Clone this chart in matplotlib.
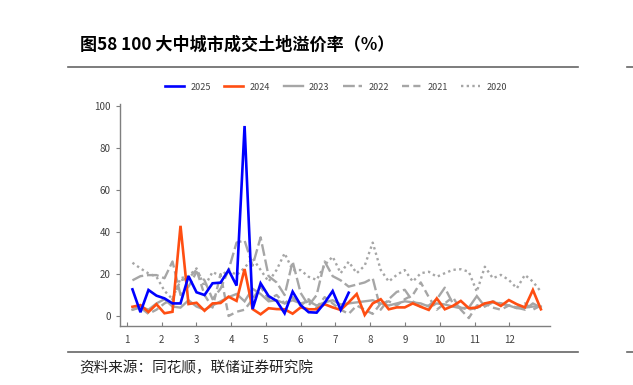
import numpy as np
import matplotlib
matplotlib.use('Agg')
from matplotlib import pyplot as plt
from matplotlib.lines import Line2D

plt.rcParams['font.family'] = ['Noto Sans CJK SC', 'DejaVu Sans']

months = list(range(1, 13))
years = ['2025', '2024', '2023', '2022', '2021', '2020']

# weekly land premium rate (%)
v2025 = [12.7, 1.8, 12.4, 9.7, 8.4, 6.0, 6.0, 19.0, 11.3, 10.0, 15.6, 15.9, 21.9, 14.5,
         90.6, 3.3, 15.6, 9.5, 7.2, 1.3, 11.6, 5.2, 1.8, 1.6, 6.3, 11.9, 2.9, 11.1]
v2024 = [4.4, 5.2, 1.9, 5.6, 1.3, 2.0, 43.0, 5.7, 6.3, 2.5, 6.0, 6.2, 9.2, 7.2,
         22.4, 3.3, 0.8, 3.7, 3.3, 3.2, 1.1, 4.1, 3.2, 3.2, 5.6, 4.1, 2.9, 6.5,
         10.5, 0.5, 6.0, 8.0, 3.2, 4.1, 4.1, 6.0, 4.4, 2.9, 8.4, 3.2, 4.8, 7.2,
         3.7, 4.0, 6.0, 6.8, 4.8, 7.6, 5.6, 4.1, 12.4, 3.2]
v2023 = [3.0, 4.5, 3.0, 6.0, 8.0, 4.5, 4.0, 7.5, 4.5, 3.0, 5.0, 7.0, 9.0, 10.5,
         7.0, 13.0, 10.5, 7.0, 7.5, 6.0, 7.5, 6.0, 7.0, 5.0, 6.5, 7.5, 5.5, 6.0,
         6.5, 7.0, 7.5, 6.0, 5.0, 6.0, 7.0, 6.5, 6.0, 4.5, 6.0, 5.5, 4.5, 3.7,
         4.0, 9.5, 4.5, 6.5, 6.0, 5.0, 3.7, 4.0, 4.5, 4.5]
v2022 = [17.0, 19.0, 19.5, 19.5, 18.0, 26.0, 10.0, 14.0, 21.0, 17.0, 8.0, 13.0, 22.0, 35.0,
         36.0, 24.0, 37.5, 19.0, 16.0, 10.0, 26.0, 11.0, 5.0, 10.0, 26.0, 19.0, 17.0, 14.0,
         15.0, 16.0, 18.0, 3.0, 8.0, 11.5, 12.5, 7.0, 4.4, 5.0, 8.0, 13.5, 6.0, 4.0,
         3.0, 4.0, 5.0, 7.0, 6.0, 5.0, 4.0, 3.0, 6.0, 4.0]
v2021 = [3.0, 4.0, 1.0, 3.0, 6.0, 8.0, 17.0, 18.0, 22.0, 10.0, 4.0, 20.0, 0.0, 2.0,
         3.0, 8.0, 14.0, 8.0, 10.0, 6.0, 9.0, 5.0, 8.0, 4.0, 9.0, 6.0, 3.0, 1.0,
         5.0, 3.0, 1.0, 6.0, 7.0, 5.0, 8.0, 10.0, 16.0, 9.0, 3.0, 6.0, 9.0, 3.0,
         -1.0, 5.0, 6.0, 4.0, 3.0, 5.0, 4.0, 6.0, 3.0, 5.0]
v2020 = [25.4, 22.7, 20.3, 18.7, 12.0, 8.0, 18.0, 19.0, 22.7, 14.0, 21.0, 19.0, 22.0, 19.5,
         23.0, 27.5, 22.0, 16.4, 22.0, 29.9, 21.9, 21.9, 18.7, 17.2, 24.3, 28.3, 20.4, 25.9,
         20.4, 24.0, 35.0, 22.0, 16.4, 19.6, 21.9, 16.4, 20.4, 21.1, 18.7, 20.4, 22.0, 22.3,
         21.1, 11.6, 23.5, 18.0, 19.6, 17.2, 13.2, 19.6, 16.4, 11.6]

series = [v2025, v2024, v2023, v2022, v2021, v2020]
colors = ['#0000FF', '#FF4E12', '#A6A6A6', '#A6A6A6', '#A6A6A6', '#A6A6A6']
widths = [1.9, 1.9, 1.7, 1.7, 1.7, 1.7]
dashes = [None, None, None, (5, 1.6), (3, 1.8), (1, 1.4)]
zorders = [6, 5, 4, 3, 2, 1]

fig = plt.figure(figsize=(6.33, 3.85), dpi=100)
ax = fig.add_axes([0.1896, 0.152, 0.6793, 0.5774])

handles = []
for name, vals, c, lw, d, z in zip(years, series, colors, widths, dashes, zorders):
    x = 1 + (5 + 7 * np.arange(len(vals))) / 30.4
    line, = ax.plot(x, vals, color=c, lw=lw, zorder=z, solid_joinstyle='miter')
    if d is not None:
        line.set_dashes(d)
    handles.append(Line2D([0], [0], color=c, lw=lw, dashes=d if d else (None, None)))

ax.set_xlim(0.807, 13.17)
ax.set_ylim(-5, 101)
ax.set_xticks(months)
ax.set_xticklabels([str(m) for m in months])
ax.set_yticks([0, 20, 40, 60, 80, 100])
for s in ['top', 'right']:
    ax.spines[s].set_visible(False)
for s in ['left', 'bottom']:
    ax.spines[s].set_color('#7F7F7F')
    ax.spines[s].set_linewidth(1.0)
ax.tick_params(axis='x', direction='in', length=3, color='#7F7F7F', labelsize=7,
               labelcolor='#404040', pad=6)
ax.tick_params(axis='y', direction='out', length=3, color='#7F7F7F', labelsize=7,
               labelcolor='#404040')

fig.legend(handles, years, loc='center', bbox_to_anchor=(0.531, 0.774), ncol=6,
           frameon=False, fontsize=6.5, handlelength=2.1, columnspacing=1.5,
           handletextpad=0.7, labelcolor='#404040')

fig.text(0.126, 0.883, '图58 100 大中城市成交土地溢价率（%）', fontsize=12.3,
         fontweight='bold', va='center', ha='left')
fig.text(0.126, 0.046, '资料来源：同花顺，联储证券研究院', fontsize=10.5,
         va='center', ha='left', color='#222222')

fig.add_artist(Line2D([68 / 633, 578 / 633], [1 - 67 / 385] * 2, color='#666666', lw=1.2))
fig.add_artist(Line2D([68 / 633, 578 / 633], [1 - 352 / 385] * 2, color='#666666', lw=1.2))
fig.add_artist(Line2D([627 / 633, 1.0], [1 - 67 / 385] * 2, color='#666666', lw=1.2))
fig.add_artist(Line2D([627 / 633, 1.0], [1 - 352 / 385] * 2, color='#666666', lw=1.2))

fig.savefig('out.png', dpi=100)
